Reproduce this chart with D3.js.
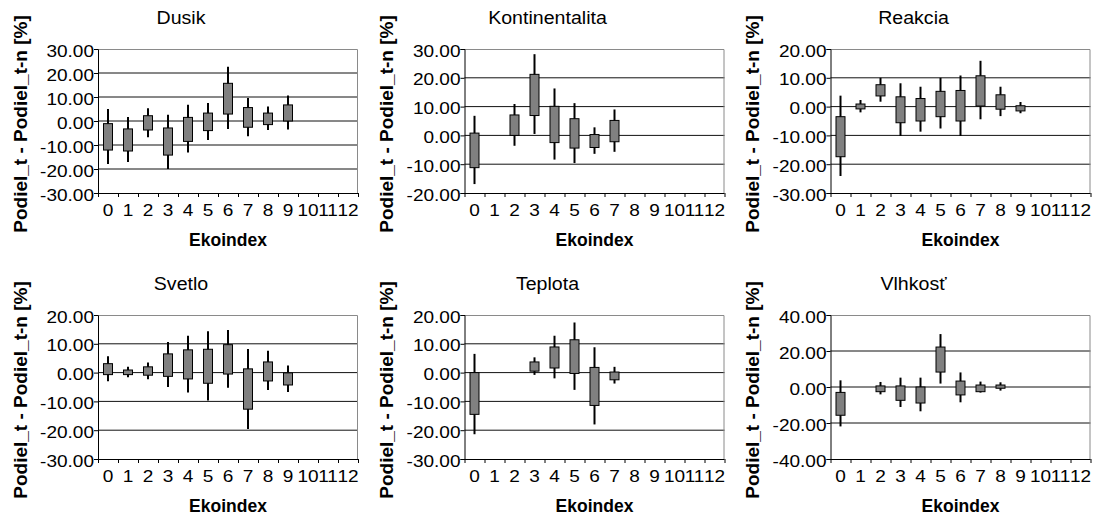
<!DOCTYPE html>
<html>
<head>
<meta charset="utf-8">
<script src="https://cdn.jsdelivr.net/npm/d3@7"></script>
<style>
  html, body { margin: 0; padding: 0; background: #fff; }
  svg { display: block; }
  text { font-family: "Liberation Sans", Arial, sans-serif; fill: #000; }
</style>
</head>
<body>
<svg id="chart" width="1093" height="517"></svg>
<script>
// Ekoindex categories on the x axis
const categories = [0, 1, 2, 3, 4, 5, 6, 7, 8, 9, 10, 11, 12];

// Each row: [ekoindex, low, boxBottom, boxTop, high]
const dusik = [
  [0, -17.9, -12.1, -1.1, 5.0],
  [1, -17.1, -12.5, -3.3, 1.7],
  [2, -6.8, -3.75, 2.2, 5.3],
  [3, -20.0, -14.2, -2.9, 2.6],
  [4, -13.1, -8.5, 1.5, 6.8],
  [5, -7.9, -4.0, 3.3, 7.5],
  [6, -3.3, 2.9, 15.7, 22.6],
  [7, -6.4, -2.6, 5.6, 9.6],
  [8, -3.75, -1.5, 3.3, 6.0],
  [9, -3.5, 0.0, 6.7, 10.6]
];
const kontinentalita = [
  [0, -16.9, -11.2, 0.8, 6.8],
  [2, -3.6, 0.0, 7.1, 10.9],
  [3, 0.5, 6.9, 21.2, 28.2],
  [4, -8.4, -2.5, 10.1, 16.3],
  [5, -9.6, -4.4, 5.8, 11.2],
  [6, -6.4, -4.2, 0.3, 2.8],
  [7, -5.7, -2.2, 5.2, 9.0]
];
const reakcia = [
  [0, -24.1, -17.4, -3.5, 3.8],
  [1, -2.0, -0.8, 0.9, 2.3],
  [2, 1.7, 3.7, 7.6, 10.0],
  [3, -10.2, -5.6, 3.4, 8.1],
  [4, -8.7, -5.0, 2.8, 6.9],
  [5, -7.6, -3.5, 5.3, 10.0],
  [6, -10.2, -5.0, 5.6, 10.8],
  [7, -4.4, 0.2, 10.7, 15.9],
  [8, -3.3, -0.9, 4.1, 6.9],
  [9, -2.3, -1.5, 0.3, 1.6]
];
const svetlo = [
  [0, -3.0, -0.7, 3.1, 5.7],
  [1, -1.6, -0.7, 0.9, 2.0],
  [2, -2.3, -0.9, 2.0, 3.5],
  [3, -5.0, -1.3, 6.5, 10.6],
  [4, -6.9, -2.2, 7.9, 12.8],
  [5, -9.7, -3.7, 8.1, 14.4],
  [6, -5.3, -0.5, 9.7, 14.8],
  [7, -19.6, -12.7, 1.3, 8.2],
  [8, -6.0, -2.9, 3.7, 7.6],
  [9, -6.7, -4.3, -0.1, 2.5]
];
const teplota = [
  [0, -21.4, -14.5, 0.0, 6.5],
  [3, -0.8, 0.5, 3.7, 5.3],
  [4, -2.0, 1.6, 8.9, 12.8],
  [5, -6.0, -0.3, 11.4, 17.4],
  [6, -18.0, -11.4, 1.8, 8.8],
  [7, -3.8, -2.5, 0.2, 2.0]
];
const vlhkost = [
  [0, -21.9, -15.7, -3.0, 3.7],
  [2, -4.1, -2.6, 0.6, 2.8],
  [3, -11.1, -7.4, 0.6, 5.2],
  [4, -13.5, -8.9, 0.0, 5.2],
  [5, 1.9, 8.3, 22.2, 29.4],
  [6, -8.5, -4.4, 3.3, 8.1],
  [7, -3.1, -2.6, 1.1, 3.0],
  [8, -2.0, -0.7, 1.1, 2.6]
];

// Y tick values for each panel
const ticksDusik = [-30, -20, -10, 0, 10, 20, 30];
const ticksKontinentalita = [-20, -10, 0, 10, 20, 30];
const ticksReakcia = [-30, -20, -10, 0, 10, 20];
const ticksSvetlo = [-30, -20, -10, 0, 10, 20];
const ticksTeplota = [-30, -20, -10, 0, 10, 20];
const ticksVlhkost = [-40, -20, 0, 20, 40];

const titles = ["Dusik", "Kontinentalita", "Reakcia", "Svetlo", "Teplota", "Vlhkosť"];
const xTitle = "Ekoindex";
const yTitle = "Podiel_t - Podiel_t-n [%]";

const panels = [
  { title: titles[0], rows: dusik, ticks: ticksDusik, col: 0, row: 0 },
  { title: titles[1], rows: kontinentalita, ticks: ticksKontinentalita, col: 1, row: 0 },
  { title: titles[2], rows: reakcia, ticks: ticksReakcia, col: 2, row: 0 },
  { title: titles[3], rows: svetlo, ticks: ticksSvetlo, col: 0, row: 1 },
  { title: titles[4], rows: teplota, ticks: ticksTeplota, col: 1, row: 1 },
  { title: titles[5], rows: vlhkost, ticks: ticksVlhkost, col: 2, row: 1 }
];

// Layout of the plot areas
const plotLefts = [98, 464.5, 830.5];
const plotTops = [49, 315];
const plotW = 260, plotH = 144;
const boxW = 9;
const stretch = 1.12;   // slightly wide lettering for the numeric labels and titles

const fmt = d3.formatLocale({ decimal: ".", thousands: ",", grouping: [3], currency: ["", ""], minus: "-" }).format(".2f");

const svg = d3.select("#chart");

panels.forEach(p => {
  const left = plotLefts[p.col], top = plotTops[p.row];
  const g = svg.append("g").attr("transform", `translate(${left},${top})`);

  const x = d3.scaleBand().domain(categories).range([0, plotW]).padding(0);
  const y = d3.scaleLinear().domain(d3.extent(p.ticks)).range([plotH, 0]);

  // horizontal gridlines
  g.selectAll("line.grid").data(p.ticks.slice(1, -1)).join("line")
    .attr("class", "grid")
    .attr("x1", 0).attr("x2", plotW)
    .attr("y1", d => y(d)).attr("y2", d => y(d))
    .attr("stroke", "#111").attr("stroke-width", 1);

  // plot-area frame (top and right)
  g.append("path")
    .attr("d", `M0.5,0.5H${plotW - 0.5}V${plotH}`)
    .attr("fill", "none").attr("stroke", "#8a8a8a").attr("stroke-width", 1);

  // whiskers (low to high)
  g.selectAll("line.whisker").data(p.rows).join("line")
    .attr("class", "whisker")
    .attr("x1", d => x(d[0]) + x.bandwidth() / 2)
    .attr("x2", d => x(d[0]) + x.bandwidth() / 2)
    .attr("y1", d => y(d[1])).attr("y2", d => y(d[4]))
    .attr("stroke", "#000").attr("stroke-width", 2);

  // boxes (boxBottom to boxTop)
  g.selectAll("rect.box").data(p.rows).join("rect")
    .attr("class", "box")
    .attr("x", d => x(d[0]) + x.bandwidth() / 2 - boxW / 2)
    .attr("width", boxW)
    .attr("y", d => y(d[3]))
    .attr("height", d => Math.max(1, y(d[2]) - y(d[3])))
    .attr("fill", "#808080").attr("stroke", "#000").attr("stroke-width", 1);

  // y axis
  const yAxis = d3.axisLeft(y).tickValues(p.ticks).tickFormat(fmt).tickSize(4).tickPadding(0);
  const ya = g.append("g").call(yAxis);
  ya.select(".domain").attr("stroke", "#000");
  ya.selectAll(".tick line").attr("stroke", "#000");
  ya.selectAll(".tick text")
    .attr("x", -4 / stretch)
    .attr("transform", `scale(${stretch},1)`)
    .attr("font-size", "17px")
    .attr("font-family", "Liberation Sans, Arial, sans-serif")
    .attr("fill", "#000")
    .attr("dy", "0.42em");

  // x axis: ticks at category boundaries, labels centred in bands
  const xb = d3.scaleLinear().domain([0, categories.length]).range([0, plotW]);
  const xa = g.append("g").attr("transform", `translate(0,${plotH})`);
  xa.append("line").attr("x1", 0).attr("x2", plotW).attr("y1", 0.5).attr("y2", 0.5).attr("stroke", "#000");
  xa.selectAll("line.xt").data(d3.range(categories.length + 1)).join("line")
    .attr("class", "xt")
    .attr("x1", d => Math.round(xb(d)) + 0.5).attr("x2", d => Math.round(xb(d)) + 0.5)
    .attr("y1", 0).attr("y2", 4).attr("stroke", "#000");
  xa.selectAll("text").data(categories).join("text")
    .attr("transform", d => `translate(${x(d) + x.bandwidth() / 2},23) scale(${stretch},1)`)
    .attr("text-anchor", "middle")
    .attr("font-size", "17px")
    .text(d => d);

  // titles
  g.append("text")
    .attr("transform", `translate(83,-25) scale(${stretch},1)`)
    .attr("text-anchor", "middle")
    .attr("font-size", "17.5px").text(p.title);
  g.append("text").attr("x", plotW / 2).attr("y", plotH + 53).attr("text-anchor", "middle")
    .attr("font-size", "17.5px").attr("font-weight", "bold").text(xTitle);
  g.append("text")
    .attr("transform", `translate(-71.5,${plotH / 2 + 3}) rotate(-90)`)
    .attr("text-anchor", "middle")
    .attr("font-size", "19px").attr("font-weight", "bold").text(yTitle);
});
</script>
</body>
</html>
